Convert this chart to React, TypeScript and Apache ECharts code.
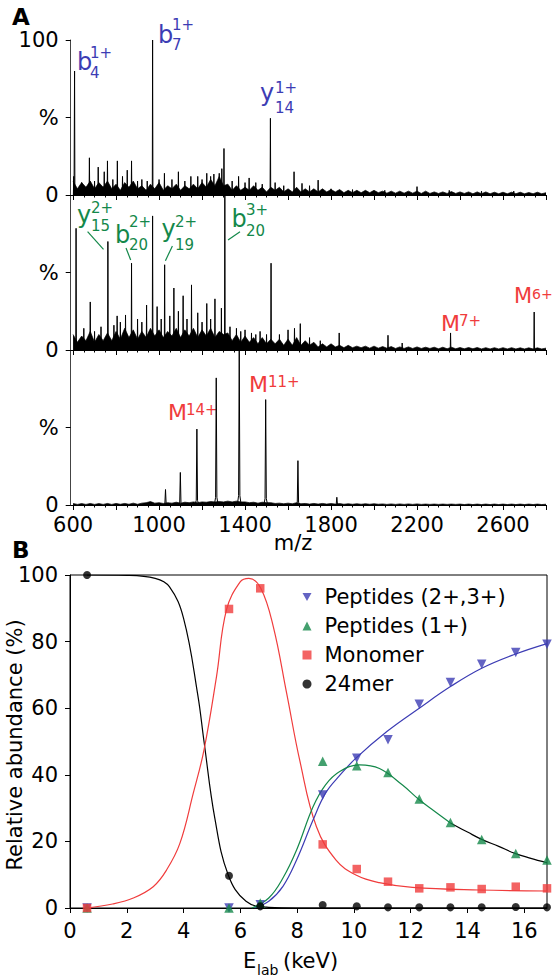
import React, { useEffect, useRef } from 'react';
import * as echarts from 'echarts';

const FONT = 'DejaVu Sans';
const BLUE = '#3c3cb4';
const GREEN = '#14884a';
const RED = '#f03c3c';

// ---------- Panel A : mass spectra ----------
const mzMin = 589;
const mzMax = 2800;
const mzTicks = [600, 800, 1000, 1200, 1400, 1600, 1800, 2000, 2200, 2400, 2600, 2800];
const mzLabels = [600, 1000, 1400, 1800, 2200, 2600];
const noiseStart = 600;
const noiseStep = 20;

const topNoise = [
  9, 4, 8, 5, 9, 4, 8, 5, 9, 4,
  7, 3, 8, 5, 9, 4, 6, 3, 7, 4,
  8, 3, 6, 4, 7, 3, 6, 4, 7, 4,
  8, 5, 10, 6, 12, 6, 7, 3, 6, 3,
  5, 3, 6, 3, 5, 2, 5, 3, 5, 2,
  4, 2, 5, 2, 4, 2, 4, 2, 4, 2,
  3.5, 2, 3.5, 1.5, 3, 1.5, 3, 1.5, 3, 1.5,
  3, 1.5, 2.5, 1.2, 2.5, 1.2, 2.5, 1.2, 2.5, 1.2,
  2.5, 1, 2.5, 1, 2, 1, 2, 1, 2.2, 1,
  2, 1, 2, 0.8, 2, 0.8, 2, 0.8, 1.8, 0.8,
  1.8, 0.8, 1.8, 0.8, 1.8, 0.8, 1.6, 0.8, 1.8, 0.8, 1.5,
];
const midNoise = [
  10, 5, 9, 6, 12, 5, 10, 6, 11, 6,
  12, 7, 14, 8, 13, 7, 12, 8, 14, 9,
  13, 8, 12, 9, 14, 8, 13, 9, 14, 8,
  13, 9, 14, 8, 12, 10, 11, 6, 10, 5,
  9, 5, 8, 4, 8, 4, 7, 4, 7, 3,
  7, 3, 8, 3, 6, 3, 5, 2, 4, 2,
  4, 2, 3, 1.5, 3, 1.5, 2.5, 1.5, 2.5, 1.2,
  2.5, 1.2, 2.2, 1.2, 2.2, 1, 2, 1, 2, 1,
  2, 1, 1.8, 1, 1.8, 0.8, 1.8, 0.8, 1.8, 0.8,
  1.6, 0.8, 1.6, 0.8, 1.6, 0.7, 1.5, 0.7, 1.5, 0.7,
  1.5, 0.7, 1.5, 0.7, 1.4, 0.7, 1.4, 0.7, 1.4, 0.7, 1.2,
];
const botNoise = [
  1, 0.4, 0.9, 0.4, 1, 0.4, 0.9, 0.4, 1, 0.4,
  1, 0.5, 1, 0.5, 1.2, 0.5, 1.2, 1.5, 2.2, 1.2,
  1.5, 1, 1.5, 1.2, 1.8, 1.2, 1.8, 1.5, 2, 1.5,
  2, 1.8, 2.2, 2, 2.2, 2, 2.5, 2, 2.5, 2,
  2, 1.5, 1.8, 1.2, 1.8, 1.5, 1.5, 1, 1.2, 0.8,
  1.2, 0.8, 1.5, 0.8, 1, 0.6, 1, 0.6, 1, 0.6,
  0.9, 0.6, 0.9, 0.5, 0.8, 0.5, 0.8, 0.5, 0.8, 0.5,
  0.8, 0.5, 0.7, 0.4, 0.7, 0.4, 0.7, 0.4, 0.7, 0.4,
  0.7, 0.4, 0.6, 0.4, 0.6, 0.4, 0.6, 0.4, 0.6, 0.4,
  0.6, 0.3, 0.6, 0.3, 0.6, 0.3, 0.6, 0.3, 0.6, 0.3,
  0.6, 0.3, 0.6, 0.3, 0.6, 0.3, 0.6, 0.3, 0.6, 0.3, 0.5,
];

const topPeaks: [number, number][] = [
  [603, 12], [607, 80], [640, 8], [676, 24], [700, 9], [717, 18], [745, 15], [760, 22],
  [785, 10], [806, 22], [830, 12], [852, 16], [872, 22], [900, 9], [920, 10], [945, 9],
  [970, 100], [1000, 10], [1025, 14], [1060, 10], [1090, 15], [1120, 9], [1148, 12],
  [1180, 12], [1200, 10], [1222, 14], [1240, 12], [1255, 13.5], [1280, 14], [1292, 17],
  [1302, 30], [1340, 9], [1370, 12], [1400, 8], [1419, 11], [1450, 8], [1480, 7],
  [1518, 49.5], [1540, 8], [1580, 6], [1628, 15], [1665, 7.5], [1700, 6], [1740, 9.6],
  [1800, 4], [1900, 3.5], [2050, 3], [2200, 5.4], [2350, 3], [2500, 2.5], [2650, 2.5],
];
const midPeaks: [number, number][] = [
  [614, 78.5], [650, 14], [680, 31], [700, 12], [730, 15], [762, 70], [790, 16], [805, 22],
  [820, 18], [844, 22.6], [872, 56], [900, 20], [920, 18], [942, 29], [970, 86.5],
  [991, 28], [1010, 20], [1026, 55], [1050, 22], [1069, 40], [1090, 25], [1112, 35],
  [1130, 20], [1151, 42], [1180, 24], [1200, 18], [1222, 30], [1240, 20], [1260, 33],
  [1290, 27], [1306, 100], [1330, 15], [1360, 14], [1380, 12], [1400, 13], [1430, 11],
  [1450, 10], [1470, 12], [1500, 10], [1521, 56], [1560, 10], [1600, 13], [1630, 14],
  [1657, 17], [1700, 8], [1750, 6], [1838, 11], [2065, 9.5], [2131, 4.5], [2356, 11],
  [2745, 24.5],
];
const botPeaks: [number, number][] = [
  [967, 1.5], [1030, 10], [1099, 21], [1176, 49], [1266, 82], [1373, 100], [1496, 68],
  [1646, 28.6], [1827, 5],
];

// ---------- Panel B : energy dependence ----------
const energy = [0.6, 5.6, 6.7, 8.9, 10.1, 11.2, 12.3, 13.4, 14.5, 15.7, 16.8];
const peptides23 = [0, 0, 1, 33.9, 45, 50.5, 61.2, 67.7, 73.2, 76.7, 79.2];
const peptides1 = [0, 0, 1.5, 44.1, 42.7, 40.7, 32.7, 25.7, 20.6, 16.4, 14.4];
const monomer = [0, 89.8, 96, 19.1, 11.7, 7.9, 5.9, 6.2, 5.7, 6.4, 5.9];
const mer24 = [100, 9.7, 0.5, 0.9, 0.5, 0.2, 0.2, 0.2, 0.2, 0.3, 0.2];
const energyTicks = [0, 2, 4, 6, 8, 10, 12, 14, 16];

// fitted curves
const fit24mer: [number, number][] = [
  [0.6, 100], [2, 99.9], [3, 99], [3.5, 96.5], [4, 87], [4.5, 64], [4.72, 50],
  [5.1, 27], [5.57, 10], [6.2, 2], [7, 0.2], [8, 0], [16.8, 0],
];
const fitMonomer: [number, number][] = [
  [0.6, 0], [1.5, 1.2], [2.23, 3], [2.93, 6.4], [3.4, 11.4], [3.87, 19.4],
  [4.34, 34.4], [4.72, 47.5], [5.16, 69.5], [5.51, 89.5], [6.0, 98],
  [6.3, 99], [6.72, 96], [7.16, 84.5], [7.63, 64.5], [8.1, 44],
  [8.68, 24.4], [9.37, 14.4], [10.07, 9.9], [10.89, 7.6], [12.06, 6.2], [14.4, 5.4], [16.8, 5.1],
];
const fitPep1Green: [number, number][] = [
  [6.4, 0], [7, 3], [7.5, 9], [7.98, 17.4], [8.56, 30.4], [9.0, 37], [9.5, 41],
  [10.2, 43], [10.9, 41.9], [11.7, 37], [12.3, 32.5], [12.85, 29], [13.4, 25.5],
];
const fitPep1Black: [number, number][] = [
  [13.4, 25.5], [14, 22.8], [14.5, 20.6], [15.1, 18.5], [15.67, 16.4], [16.2, 15], [16.8, 13.6],
];
const fitPep23: [number, number][] = [
  [6.5, 0], [7, 2], [7.5, 6.5], [7.98, 14.4], [8.56, 26.4], [9.0, 34.5],
  [9.5, 39.8], [10.07, 45], [11.16, 53], [12.3, 60], [13.4, 66.5], [14.5, 72],
  [15.67, 76.2], [16.8, 79.4],
];

function noiseData(vals: number[]) {
  return vals.map((v, i) => [noiseStart + i * noiseStep, v]);
}
function stickData(peaks: [number, number][], w: number) {
  const out: number[][] = [];
  [...peaks].sort((a, b) => a[0] - b[0]).forEach(([m, h]) => {
    out.push([m - w, 0], [m, h], [m + w, 0]);
  });
  return out;
}
function broadData(peaks: [number, number][]) {
  const out: number[][] = [];
  [...peaks].sort((a, b) => a[0] - b[0]).forEach(([m, h]) => {
    out.push([m - 9, 0], [m - 3, h * 0.06], [m, h], [m + 3, h * 0.06], [m + 9, 0]);
  });
  return out;
}

const gridsA = [
  { left: 70.7, top: 40, width: 475.3, height: 155 },
  { left: 70.7, top: 195, width: 475.3, height: 155 },
  { left: 70.7, top: 350, width: 475.3, height: 155 },
];

function txt(text: string, x: number, y: number, size: number, color: string, extra: any = {}) {
  return {
    type: 'text', x, y, silent: true,
    style: { text, fontSize: size, fontFamily: FONT, fill: color, align: 'left', verticalAlign: 'middle', ...extra },
  };
}
function lead(x1: number, y1: number, x2: number, y2: number, color: string) {
  return { type: 'line', silent: true, shape: { x1, y1, x2, y2 }, style: { stroke: color, lineWidth: 1.2 } };
}

export default function App() {
  const ref = useRef<HTMLDivElement>(null);
  useEffect(() => {
    if (!ref.current) return;
    const chart = echarts.init(ref.current, undefined, { renderer: 'svg' });
    const minor: number[] = [];
    for (let m = 650; m <= 2800; m += 50) if (m % 200 !== 0) minor.push(m);

    const xAxes: any[] = [];
    const yAxes: any[] = [];
    gridsA.forEach((_, i) => {
      xAxes.push({
        gridIndex: i, type: 'value', min: mzMin, max: mzMax, position: 'bottom',
        axisLine: { show: true, onZero: false, lineStyle: { color: '#000', width: 1 } },
        axisTick: { show: true, customValues: mzTicks, length: 5, lineStyle: { color: '#000' } },
        axisLabel: {
          show: i === 2, customValues: mzLabels, fontSize: 21, fontFamily: FONT, color: '#000', margin: 9,
          formatter: (v: number) => String(v),
        },
        splitLine: { show: false },
      });
      xAxes.push({
        gridIndex: i, type: 'value', min: mzMin, max: mzMax, position: 'bottom',
        axisLine: { show: false },
        axisTick: { show: true, customValues: minor, length: 2.5, lineStyle: { color: '#000' } },
        axisLabel: { show: false },
        splitLine: { show: false },
      });
      const yt = i === 0 ? [0, 50, 100] : [0, 50];
      yAxes.push({
        gridIndex: i, type: 'value', min: 0, max: 100,
        axisLine: { show: true, lineStyle: { color: '#444', width: 1 } },
        axisTick: { show: true, customValues: yt, length: 5, lineStyle: { color: '#000' } },
        axisLabel: {
          customValues: yt, fontSize: 21, fontFamily: FONT, color: '#000', margin: 12,
          formatter: (v: number) => (v === 50 ? '%' : String(v)),
        },
        splitLine: { show: false },
      });
    });
    // panel B axes
    xAxes.push({
      gridIndex: 3, type: 'value', min: 0, max: 16.8,
      axisLine: { show: true, onZero: false, lineStyle: { color: '#000' } },
      axisTick: { show: true, customValues: energyTicks, length: 5, lineStyle: { color: '#000' } },
      axisLabel: { customValues: energyTicks, fontSize: 21, fontFamily: FONT, color: '#000', margin: 12 },
      splitLine: { show: false },
    });
    yAxes.push({
      gridIndex: 3, type: 'value', min: 0, max: 100, interval: 20,
      axisLine: { show: true, lineStyle: { color: '#000' } },
      axisTick: { show: true, length: 5, lineStyle: { color: '#000' } },
      axisLabel: { fontSize: 21, fontFamily: FONT, color: '#000', margin: 12 },
      splitLine: { show: false },
    });

    const series: any[] = [];
    const noises = [topNoise, midNoise, botNoise];
    noises.forEach((n, i) => {
      series.push({
        type: 'line', xAxisIndex: i * 2, yAxisIndex: i, data: noiseData(n), symbol: 'none',
        lineStyle: { color: '#000', width: 0.7 }, areaStyle: { color: '#000', opacity: 1 }, z: 2,
      });
    });
    series.push({
      type: 'line', xAxisIndex: 0, yAxisIndex: 0, data: stickData(topPeaks, 1.5), symbol: 'none',
      lineStyle: { color: '#000', width: 1 }, z: 3,
    });
    series.push({
      type: 'line', xAxisIndex: 2, yAxisIndex: 1, data: stickData(midPeaks, 1.5), symbol: 'none',
      lineStyle: { color: '#000', width: 1 }, z: 3,
    });
    series.push({
      type: 'line', xAxisIndex: 4, yAxisIndex: 2, data: broadData(botPeaks), symbol: 'none',
      lineStyle: { color: '#000', width: 1 }, z: 3,
    });

    const fitLine = (data: [number, number][], color: string) => ({
      type: 'line', xAxisIndex: 6, yAxisIndex: 3, data, symbol: 'none', smooth: 0.4,
      lineStyle: { color, width: 1.2 }, z: 2, silent: true,
    });
    series.push(fitLine(fit24mer, '#000'));
    series.push(fitLine(fitMonomer, RED));
    series.push(fitLine(fitPep23, BLUE));
    series.push(fitLine(fitPep1Green, GREEN));
    series.push(fitLine(fitPep1Black, '#000'));

    const scat = (name: string, vals: number[], symbol: string, size: number, color: string) => ({
      name, type: 'scatter', xAxisIndex: 6, yAxisIndex: 3, symbol, symbolSize: size, clip: false,
      itemStyle: { color }, data: energy.map((e, i) => [e, vals[i]]), z: 4,
    });
    series.push(scat('Peptides (2+,3+)', peptides23, 'path://M0,0L10,0L5,8.7Z', 9.5, BLUE));
    series.push(scat('Peptides (1+)', peptides1, 'triangle', 9.5, GREEN));
    series.push(scat('Monomer', monomer, 'rect', 8.5, RED));
    series.push(scat('24mer', mer24, 'circle', 8, '#000'));

    const graphic: any[] = [
      txt('A', 12, 17, 23, '#000', { fontWeight: 'bold' }),
      txt('B', 12, 550, 23, '#000', { fontWeight: 'bold' }),
      txt('m/z', 293, 543, 21, '#000', { align: 'center' }),
      txt('E', 243, 960.5, 21, '#000'),
      txt('lab', 257, 970, 14, '#000'),
      txt('(keV)', 283, 960.5, 21, '#000'),
      {
        type: 'text', x: 15, y: 745, rotation: Math.PI / 2, silent: true,
        style: { text: 'Relative abundance (%)', fontSize: 21, fontFamily: FONT, fill: '#000', align: 'center', verticalAlign: 'middle' },
      },
      // top spectrum annotations
      txt('b', 77, 61.5, 24, BLUE), txt('1+', 90, 52.5, 15, BLUE), txt('4', 90, 73, 15, BLUE),
      txt('b', 158, 34.5, 24, BLUE), txt('1+', 172, 25, 15, BLUE), txt('7', 172, 45, 15, BLUE),
      txt('y', 260, 92.5, 24, BLUE), txt('1+', 275, 88, 15, BLUE), txt('14', 275, 107.5, 15, BLUE),
      // middle spectrum annotations
      txt('y', 77, 214.5, 24, GREEN), txt('2+', 91, 208, 15, GREEN), txt('15', 91, 226, 15, GREEN),
      lead(87.6, 231.7, 103.5, 249.3, GREEN),
      txt('b', 115, 234.5, 24, GREEN), txt('2+', 129, 222, 15, GREEN), txt('20', 129, 244.5, 15, GREEN),
      lead(126, 248, 130.7, 260, GREEN),
      txt('y', 161.5, 228.5, 24, GREEN), txt('2+', 175, 222, 15, GREEN), txt('19', 175, 244.5, 15, GREEN),
      lead(172.4, 246, 165.4, 260.7, GREEN),
      txt('b', 231.5, 218.5, 24, GREEN), txt('3+', 246, 210, 15, GREEN), txt('20', 246, 231, 15, GREEN),
      lead(240, 231.7, 228, 240, GREEN),
      txt('M', 441, 323, 22, RED), txt('7+', 459, 321, 15, RED),
      txt('M', 514, 296, 21, RED), txt('6+', 532, 294, 14, RED),
      // bottom spectrum annotations
      txt('M', 168, 412.5, 22, RED), txt('14+', 186, 410, 15, RED),
      txt('M', 249, 384, 22, RED), txt('11+', 268, 382, 15, RED),
    ];

    chart.setOption({
      animation: false,
      grid: [
        ...gridsA,
        { left: 70, top: 575, width: 477, height: 333, show: true, borderColor: '#000', borderWidth: 1 },
      ],
      xAxis: xAxes,
      yAxis: yAxes,
      legend: {
        data: ['Peptides (2+,3+)', 'Peptides (1+)', 'Monomer', '24mer'],
        orient: 'vertical', left: 297.5, top: 581, itemWidth: 9, itemHeight: 9, itemGap: 7,
        selectedMode: false,
        textStyle: { fontSize: 21, fontFamily: FONT, color: '#000', lineHeight: 22, padding: [0, 0, 0, 8] },
      },
      series,
      graphic,
    });
    return () => chart.dispose();
  }, []);
  return <div ref={ref} style={{ width: 552, height: 979, position: 'absolute', left: 0, top: 0 }} />;
}
